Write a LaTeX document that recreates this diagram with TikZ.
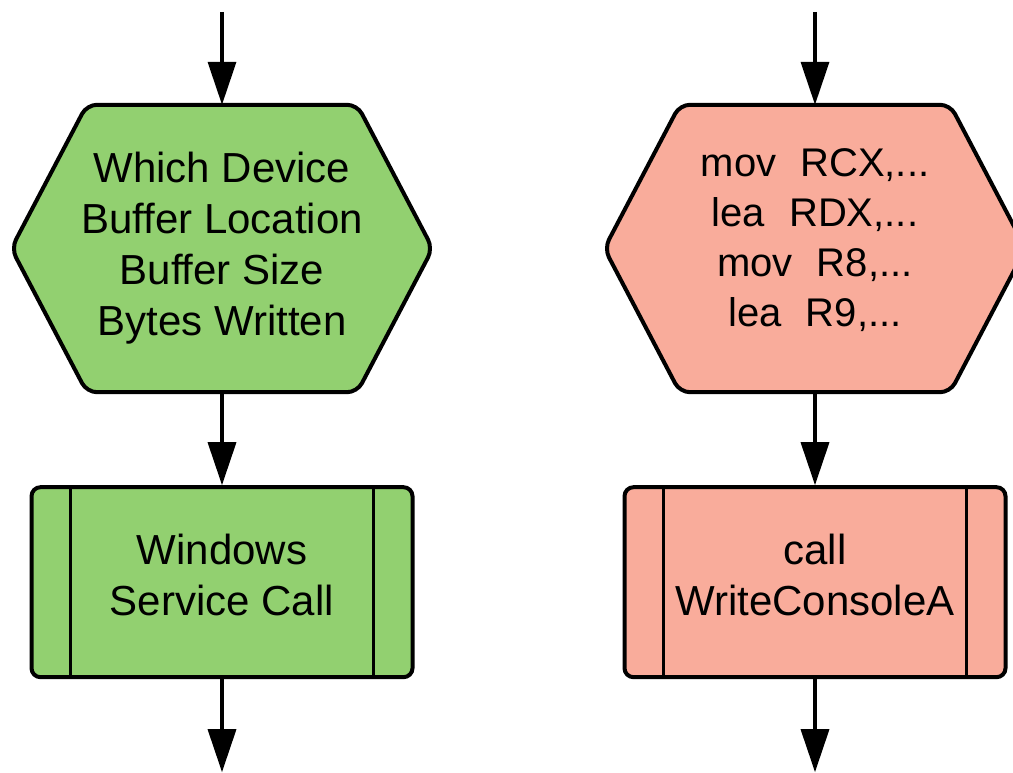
\documentclass[tikz,border=0pt]{standalone}
\usepackage{fontspec}
\setmainfont{Liberation Sans}
\usetikzlibrary{arrows.meta, positioning, backgrounds}
\definecolor{devgreen}{RGB}{146,208,112}
\definecolor{regsalmon}{RGB}{249,172,155}

\begin{document}
\begin{tikzpicture}[
            x=1pt, y=1pt,
            node distance=93pt,
            hexbox/.style={rectangle, minimum width=421pt, minimum height=287pt, inner sep=0pt, align=center, font=\fontsize{42}{51}\selectfont},
            hexline/.style={draw=black, line width=4pt, rounded corners=10pt, line join=round},
            callbox/.style={rectangle, draw=black, line width=4pt, rounded corners=9pt, minimum width=381pt, minimum height=190pt, inner sep=0pt, align=center, text depth=15pt, font=\fontsize{42}{51}\selectfont,
                path picture={\draw[line width=3pt] ([xshift=39pt]path picture bounding box.north west) -- ([xshift=39pt]path picture bounding box.south west)
                    ([xshift=-39pt]path picture bounding box.north east) -- ([xshift=-39pt]path picture bounding box.south east);}},
            flow/.style={-{Triangle[length=43pt, width=28pt]}, line width=3.5pt, draw=black}
        ]
    \useasboundingbox (0,0) rectangle (1013,772);

    \node[hexbox] (devhex) at (222,523.5) {Which Device\\Buffer Location\\Buffer Size\\Bytes Written};
    \node[hexbox, font=\fontsize{40}{50}\selectfont, text depth=22pt] (regshex) at (815,523.5) {mov\hspace{.6em}RCX,...\\lea\hspace{.6em}RDX,...\\mov\hspace{.6em}R8,...\\lea\hspace{.6em}R9,...};

    \node[callbox, fill=devgreen, below=of devhex] (svccall) {Windows\\Service Call};
    \node[callbox, fill=regsalmon, below=of regshex] (wcall) {call\\WriteConsoleA};

    % hexagons behind the text
    \begin{scope}[on background layer]
        \draw[hexline, fill=devgreen] (devhex.west) -- ([xshift=75.5pt]devhex.north west) -- ([xshift=-75.5pt]devhex.north east) -- (devhex.east)
            -- ([xshift=-75.5pt]devhex.south east) -- ([xshift=75.5pt]devhex.south west) -- cycle;
        \draw[hexline, fill=regsalmon] (regshex.west) -- ([xshift=75.5pt]regshex.north west) -- ([xshift=-75.5pt]regshex.north east) -- (regshex.east)
            -- ([xshift=-75.5pt]regshex.south east) -- ([xshift=75.5pt]regshex.south west) -- cycle;
    \end{scope}

    \coordinate[above=of devhex] (devin);
    \coordinate[below=of svccall] (devout);
    \coordinate[above=of regshex] (regsin);
    \coordinate[below=of wcall] (regsout);

    \draw[flow] (devin) -- (devhex);
    \draw[flow] (devhex) -- (svccall);
    \draw[flow] (svccall) -- (devout);
    \draw[flow] (regsin) -- (regshex);
    \draw[flow] (regshex) -- (wcall);
    \draw[flow] (wcall) -- (regsout);

\end{tikzpicture}
\end{document}
